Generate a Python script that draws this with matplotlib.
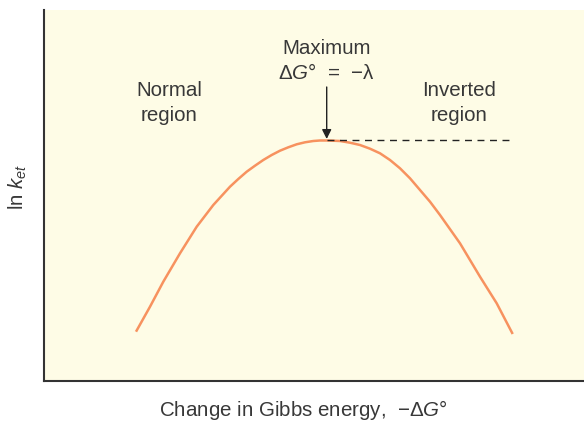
import matplotlib
matplotlib.use('Agg')
import matplotlib.pyplot as plt
import numpy as np

# curve: driving force (-dG) vs ln k_et, arbitrary units
drive = [92, 106, 119.3, 136, 152.7, 169.3, 186, 194.3, 202.7, 211, 219.3, 227.7, 236,
         244.3, 252.7, 261, 269.3, 276, 282.7, 286, 296, 306, 316, 326, 336, 346, 356,
         366, 376, 386, 396, 416, 436, 452.7, 468.7]
ln_ket = [49.3, 74.3, 99.3, 127.7, 154.3, 176, 194.3, 202, 209.3, 215.3, 221, 226,
          230.3, 233.7, 236.7, 238.7, 240, 240.5, 240.5, 240.4, 240, 238.3, 236,
          232.3, 227.7, 221, 212.7, 202.7, 191, 179.3, 166, 137.7, 104.3, 77.7, 47]

peak_x = 282.7
peak_y = 241
dash_end = 467.7

plt.rcParams['font.family'] = ['Liberation Sans', 'DejaVu Sans']
plt.rcParams['mathtext.fontset'] = 'custom'
plt.rcParams['mathtext.rm'] = 'Liberation Sans'
plt.rcParams['mathtext.it'] = 'Liberation Sans:italic'

txt = '#383838'
fs = 14.8

fig = plt.figure(figsize=(5.84, 4.21), dpi=100)
ax = fig.add_axes([44 / 584, 40 / 421, 540 / 584, 371 / 421])
ax.set_facecolor('#FEFCE6')
ax.plot(drive, ln_ket, color='#F7925F', lw=1.8,
        solid_capstyle='butt', solid_joinstyle='round')
ax.plot([peak_x, dash_end], [peak_y, peak_y], color='#222222', lw=1.0,
        dashes=(5, 4))
ax.annotate('', xy=(peak_x, peak_y + 1), xytext=(peak_x, 294),
            arrowprops=dict(arrowstyle='-|>', color='#222222', lw=1.0,
                            mutation_scale=14, shrinkA=0, shrinkB=0))

ax.text(peak_x, 333, 'Maximum', ha='center', va='center', fontsize=fs, color=txt)
ax.text(peak_x, 308, r'$\Delta G$°  =  −λ', ha='center', va='center', fontsize=fs,
        color=txt)
ax.text(125, 278, 'Normal\nregion', ha='center', va='center', fontsize=fs,
        color=txt, linespacing=1.4)
ax.text(415, 278, 'Inverted\nregion', ha='center', va='center', fontsize=fs,
        color=txt, linespacing=1.4)

ax.set_xlim(0, 540)
ax.set_ylim(0, 371)
ax.set_xticks([])
ax.set_yticks([])
for s in ['top', 'right']:
    ax.spines[s].set_visible(False)
for s in ['left', 'bottom']:
    ax.spines[s].set_color('#333333')
    ax.spines[s].set_linewidth(1.5)

fig.text(303 / 584, 1 - 410 / 421, r'Change in Gibbs energy,  −$\Delta G$°',
         ha='center', va='center', fontsize=fs, color=txt)
fig.text(18 / 584, 1 - 187 / 421, r'ln $k_{et}$', ha='center', va='center',
         fontsize=fs, color=txt, rotation=90)

fig.savefig('out.png', dpi=100)
